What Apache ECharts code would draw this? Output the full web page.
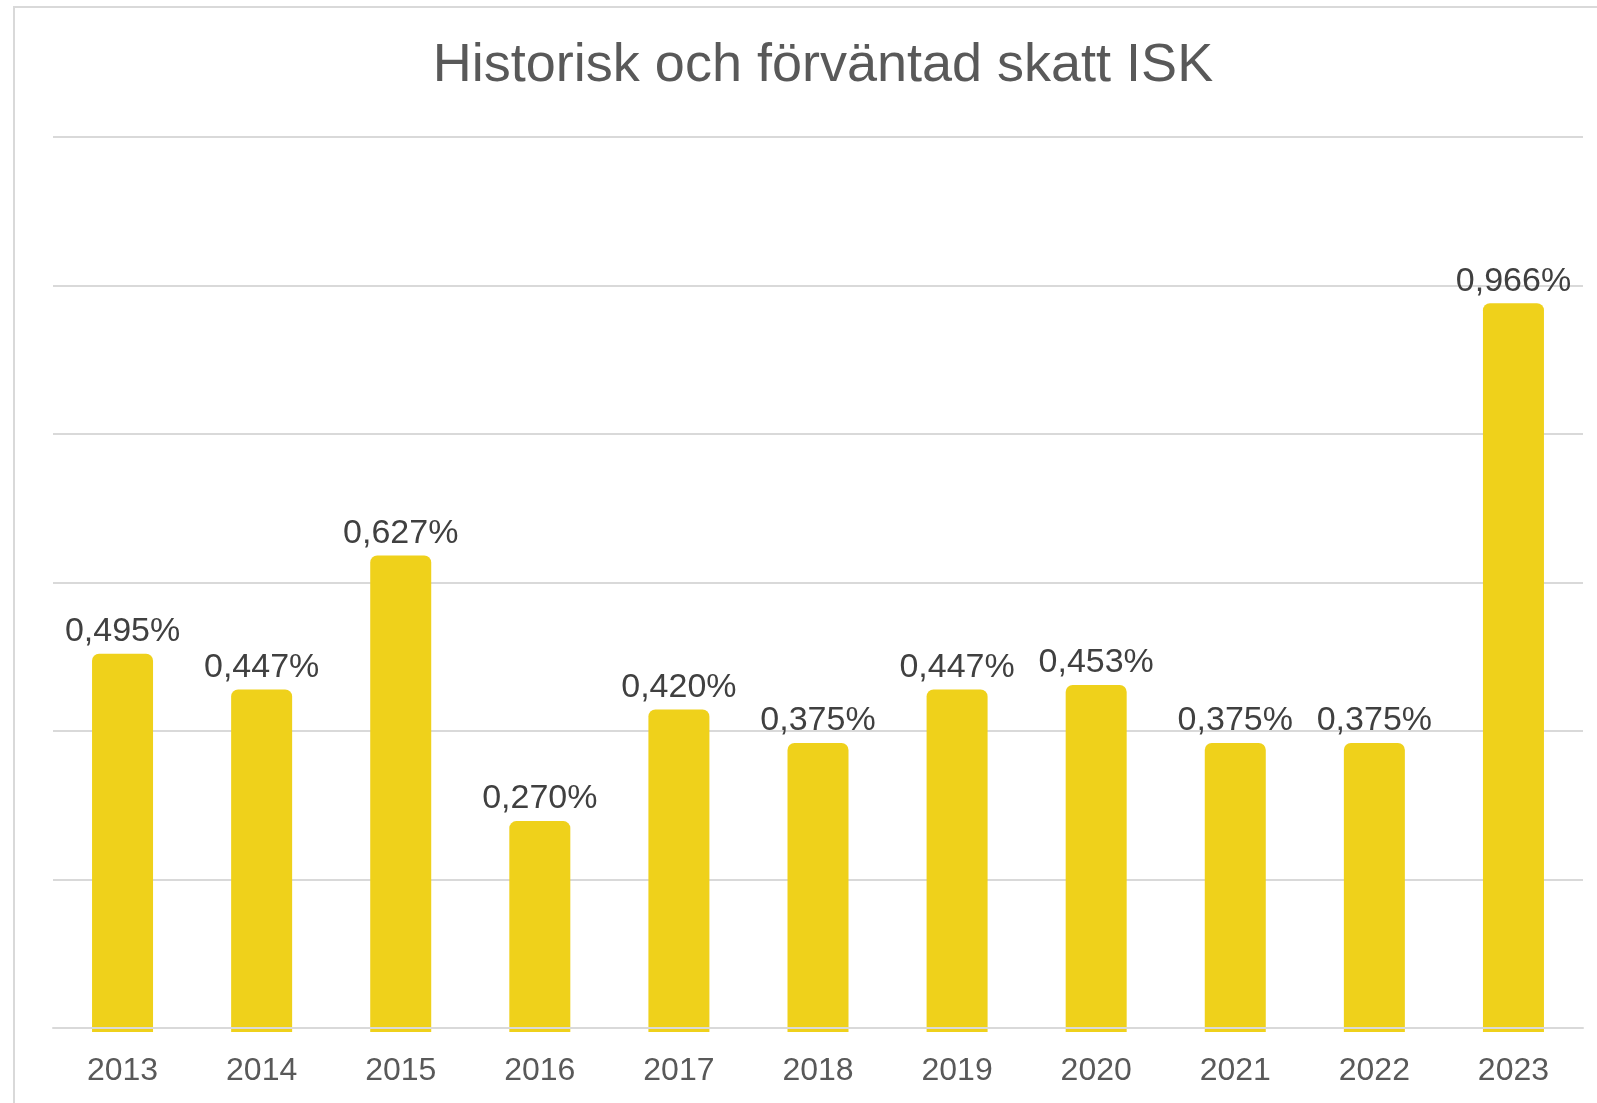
<!DOCTYPE html>
<html>
<head>
<meta charset="utf-8">
<script src="https://cdn.jsdelivr.net/npm/echarts@6/dist/echarts.min.js"></script>
<style>
  html, body { margin: 0; padding: 0; background: #fff; }
  #isk_skatt { width: 1597px; height: 1103px; }
</style>
</head>
<body>
<div id="isk_skatt"></div>
<script>
// data
var years = ['2013', '2014', '2015', '2016', '2017', '2018', '2019', '2020', '2021', '2022', '2023'];
var skatt = [0.495, 0.447, 0.627, 0.270, 0.420, 0.375, 0.447, 0.453, 0.375, 0.375, 0.966];
var yMax = 1.2;
var yStep = 0.2;
// staplarna börjar en bit under nollan, som i originalet
var barFoot = -0.0135;

var fontFam = '"Liberation Sans", Arial, sans-serif';

var isk_skatt = {
    backgroundColor: '#fff',
    title: {
        text: 'Historisk och förväntad skatt ISK',
        left: 818,
        textAlign: 'center',
        top: 34,
        textStyle: {
            color: '#595959',
            fontSize: 54,
            fontWeight: 'normal',
            fontFamily: fontFam
        }
    },
    // ram uppe och till vänster
    graphic: [
        {
            type: 'rect',
            shape: { x: 14, y: 7, width: 1700, height: 1200 },
            style: { fill: 'none', stroke: '#d9d9d9', lineWidth: 2 },
            silent: true
        }
    ],
    // grid 0 = rutnät och årtal, grid 1 = staplarna
    grid: [
        { left: 53, right: 14, top: 137, bottom: 75 },
        { left: 53, right: 14, top: 137, bottom: 71 }
    ],
    xAxis: [
        {
            type: 'category',
            gridIndex: 0,
            data: years,
            axisTick: { show: false },
            axisLine: {
                lineStyle: { color: '#d9d9d9', width: 2 }
            },
            axisLabel: {
                color: '#595959',
                fontSize: 32,
                fontFamily: fontFam,
                margin: 27
            },
            z: 5
        },
        {
            type: 'category',
            gridIndex: 1,
            data: years,
            show: false
        }
    ],
    yAxis: [
        {
            type: 'value',
            gridIndex: 0,
            min: 0,
            max: yMax,
            interval: yStep,
            axisLabel: { show: false },
            axisLine: { show: false },
            axisTick: { show: false },
            splitLine: {
                lineStyle: { color: '#d9d9d9', width: 2 }
            }
        },
        {
            type: 'value',
            gridIndex: 1,
            min: barFoot,
            max: 1.1895,
            startValue: barFoot,
            show: false,
            splitLine: { show: false }
        }
    ],
    series: [
        {
            name: 'Skatt',
            type: 'bar',
            xAxisIndex: 1,
            yAxisIndex: 1,
            data: skatt,
            barWidth: 61,
            z: 1,
            itemStyle: {
                color: '#EFD11B',
                borderRadius: [7, 7, 0, 0]
            },
            label: {
                show: true,
                position: 'top',
                distance: 5,
                color: '#404040',
                fontSize: 34,
                fontFamily: fontFam,
                formatter: function (p) {
                    return p.value.toFixed(3).replace('.', ',') + '%';
                }
            }
        }
    ]
};

var chart_isk_skatt = echarts.init(document.getElementById('isk_skatt'));
chart_isk_skatt.setOption(isk_skatt);
</script>
</body>
</html>
